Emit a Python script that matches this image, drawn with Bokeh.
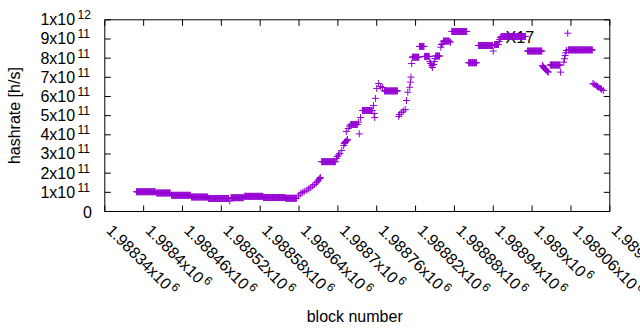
import math
from bokeh.plotting import figure
from bokeh.models import Range1d
from bokeh.core.properties import value
from bokeh.embed import file_html
from bokeh.resources import INLINE

# ---- data ----
# runs of blocks sharing the same hashrate: first block, last block, hashrate [1e11 h/s]
run_first = [1988389, 1988420, 1988443, 1988474, 1988500, 1988535, 1988556, 1988585, 1988619,
             1988675, 1988720, 1988738, 1988772, 1988815, 1988826, 1988834, 1988851, 1988863,
             1988876, 1988902, 1988917, 1988942, 1988953, 1988993, 1989028, 1989056]
run_last = [1988418, 1988441, 1988472, 1988499, 1988531, 1988554, 1988584, 1988618, 1988636,
            1988696, 1988730, 1988753, 1988792, 1988825, 1988833, 1988841, 1988857, 1988872,
            1988899, 1988914, 1988939, 1988948, 1988990, 1989015, 1989043, 1989093]
run_rate = [1.03, 0.965, 0.845, 0.756, 0.678, 0.72, 0.79, 0.73, 0.69,
            2.60, 4.54, 5.27, 6.29, 8.05, 8.61, 8.09, 8.11, 8.89,
            9.39, 7.76, 8.66, 8.71, 9.13, 8.37, 7.64, 8.43]

# single blocks
pt_block = [1988533,
            1988639, 1988642, 1988645, 1988648, 1988652, 1988655, 1988658, 1988661, 1988664,
            1988667, 1988669, 1988670, 1988672, 1988673,
            1988698, 1988699, 1988701, 1988703, 1988706, 1988709, 1988710, 1988711, 1988712,
            1988713, 1988714, 1988715, 1988716, 1988718,
            1988732, 1988733, 1988735,
            1988755, 1988756, 1988757, 1988758, 1988760, 1988763, 1988766, 1988769,
            1988794, 1988795, 1988798, 1988801, 1988804,
            1988806, 1988808, 1988811, 1988812, 1988813, 1988814,
            1988842, 1988843, 1988845, 1988846, 1988848, 1988849, 1988850,
            1988859, 1988860, 1988862,
            1988874,
            1988940,
            1988949, 1988950, 1988951,
            1989016, 1989017, 1989018, 1989019, 1989021, 1989022, 1989024, 1989025,
            1989044, 1989049, 1989050, 1989051, 1989052, 1989053,
            1989055,
            1989094, 1989096, 1989099, 1989101, 1989103, 1989106, 1989107, 1989110]
pt_rate = [0.55,
           0.82, 0.92, 0.99, 1.05, 1.11, 1.18, 1.26, 1.33, 1.41,
           1.50, 1.58, 1.65, 1.72, 1.77,
           2.77, 2.87, 2.95, 3.03, 3.18, 3.44, 3.55, 3.60, 3.65,
           4.17, 3.70, 3.76, 4.33, 4.45,
           4.66, 4.05, 4.90,
           5.53, 5.11, 4.90, 5.90, 6.42, 6.68, 6.52, 6.47,
           4.96, 5.06, 5.16, 5.24, 5.32,
           5.79, 6.22, 6.48, 6.75, 7.01, 7.72,
           7.82, 7.72, 7.62, 7.51, 7.67, 7.82, 7.98,
           8.57, 8.71, 8.75,
           8.83,
           8.37,
           8.87, 8.97, 9.08,
           7.62, 7.56, 7.51, 7.46, 7.41, 7.36, 7.30, 7.27,
           7.27, 7.79, 7.97, 8.14, 8.28, 8.40,
           9.30,
           6.68, 6.63, 6.57, 6.52, 6.47, 6.42, 6.37, 6.31]

x_ticks = [1988340, 1988400, 1988460, 1988520, 1988580, 1988640, 1988700,
           1988760, 1988820, 1988880, 1988940, 1989000, 1989060, 1989120]
x_tick_text = ["1.98834x10", "1.9884x10", "1.98846x10", "1.98852x10", "1.98858x10",
               "1.98864x10", "1.9887x10", "1.98876x10", "1.98882x10", "1.98888x10",
               "1.98894x10", "1.989x10", "1.98906x10", "1.98912x10"]
x_tick_exp = "6"
y_ticks = [0, 1e11, 2e11, 3e11, 4e11, 5e11, 6e11, 7e11, 8e11, 9e11, 1e12]
y_tick_text = ["0", "1x10", "2x10", "3x10", "4x10", "5x10", "6x10", "7x10", "8x10", "9x10", "1x10"]
y_tick_exp = ["", "11", "11", "11", "11", "11", "11", "11", "11", "11", "12"]
note_text = "X17"
note_block, note_rate = 1988959, 9.077e11
x_title = "block number"
y_title = "hashrate [h/s]"

# ---- layout of the canvas (pixels) ----
W, H = 640, 330
BOX_L, BOX_R, BOX_T, BOX_B = 104.3, 609.3, 19.3, 211.0
TICK = 6
FONT = value("Liberation Sans")
COLOR = "#9400d3"

x0, x1 = x_ticks[0], x_ticks[-1]
y0, y1 = y_ticks[0], y_ticks[-1]
bpp = (x1 - x0) / (BOX_R - BOX_L)      # data units per pixel
vpp = (y1 - y0) / (BOX_B - BOX_T)


def dx(px):
    return px * bpp


def dy(px):          # px measured downward on screen
    return -px * vpp


p = figure(width=W, height=H, output_backend="svg", toolbar_location=None,
           x_range=Range1d(x0 - dx(BOX_L), x0 + dx(W - BOX_L)),
           y_range=Range1d(y0 + dy(H - BOX_B), y1 + (-dy(BOX_T))),
           x_axis_type=None, y_axis_type=None, min_border=0)
p.grid.visible = False
p.outline_line_color = None
p.background_fill_color = "white"
p.border_fill_color = "white"

# note label (beneath the data)
p.text(x=[note_block], y=[note_rate], text=[note_text], text_font=FONT,
       text_font_size=value("16px"), text_color="black", text_align="left",
       text_baseline="alphabetic")

# data
xs, ys = [], []
for a, b, r in zip(run_first, run_last, run_rate):
    blocks = list(range(a, b + 1))
    xs += blocks
    ys += [r * 1e11] * len(blocks)
xs += pt_block
ys += [r * 1e11 for r in pt_rate]
p.scatter(xs, ys, marker="cross", size=7, line_color=COLOR, line_width=1)

# plot border
p.quad(left=[x0], right=[x1], bottom=[y0], top=[y1], fill_color=None,
       line_color="black", line_width=1)

# inward ticks on all four sides
p.segment(x0=x_ticks, x1=x_ticks, y0=[y0] * len(x_ticks), y1=[y0 - dy(TICK)] * len(x_ticks),
          line_color="black", line_width=1)
p.segment(x0=x_ticks, x1=x_ticks, y0=[y1] * len(x_ticks), y1=[y1 + dy(TICK)] * len(x_ticks),
          line_color="black", line_width=1)
p.segment(x0=[x0] * len(y_ticks), x1=[x0 + dx(TICK)] * len(y_ticks), y0=y_ticks, y1=y_ticks,
          line_color="black", line_width=1)
p.segment(x0=[x1] * len(y_ticks), x1=[x1 - dx(TICK)] * len(y_ticks), y0=y_ticks, y1=y_ticks,
          line_color="black", line_width=1)

# y tick labels: mantissa + raised exponent
main_x, main_t, main_y, zero_t, zero_y = [], [], [], [], []
exp_x, exp_y, exp_t = [], [], []
for v, t, e in zip(y_ticks, y_tick_text, y_tick_exp):
    if e:
        main_t.append(t)
        main_y.append(v)
        exp_t.append(e)
        exp_y.append(v - dy(5.1))
    else:
        zero_t.append(t)
        zero_y.append(v)
p.text(x=[x0 + dx(-29.7)] * len(main_t), y=main_y, text=main_t, text_font=FONT,
       text_font_size=value("16px"), text_align="right", text_baseline="middle",
       text_color="black")
p.text(x=[x0 + dx(-27.3)] * len(exp_t), y=exp_y, text=exp_t, text_font=FONT,
       text_font_size=value("12px"), text_align="left", text_baseline="middle",
       text_color="black")
p.text(x=[x0 + dx(-12.8)] * len(zero_t), y=zero_y, text=zero_t, text_font=FONT,
       text_font_size=value("16px"), text_align="right", text_baseline="middle",
       text_color="black")

# x tick labels, rotated by -45 degrees, with raised exponent at the end
c = math.cos(math.pi / 4)
lx, ly, ex, ey = [], [], [], []
for v, t in zip(x_ticks, x_tick_text):
    w = 16 * sum(0.556 if ch.isdigit() else (0.278 if ch == "." else 0.5) for ch in t)
    s = w + 2.0
    lx.append(v + dx(4.7))
    ly.append(y0 + dy(16))
    ex.append(v + dx(4.7 + c * (s + 5.1)))
    ey.append(y0 + dy(16 + c * (s - 5.1)))
p.text(x=lx, y=ly, text=x_tick_text, angle=-math.pi / 4, text_font=FONT,
       text_font_size=value("16px"), text_align="left", text_baseline="middle",
       text_color="black")
p.text(x=ex, y=ey, text=[x_tick_exp] * len(ex), angle=-math.pi / 4, text_font=FONT,
       text_font_size=value("12px"), text_align="left", text_baseline="middle",
       text_color="black")

# axis titles
p.text(x=[x0 + dx(-89.9)], y=[(y0 + y1) / 2], text=[y_title], angle=math.pi / 2,
       text_font=FONT, text_font_size=value("16px"), text_align="center",
       text_baseline="middle", text_color="black")
p.text(x=[(x0 + x1) / 2 + dx(-2.6)], y=[y0 + dy(105)], text=[x_title],
       text_font=FONT, text_font_size=value("16px"), text_align="center",
       text_baseline="middle", text_color="black")

open("out.html", "w").write(file_html(p, INLINE))
